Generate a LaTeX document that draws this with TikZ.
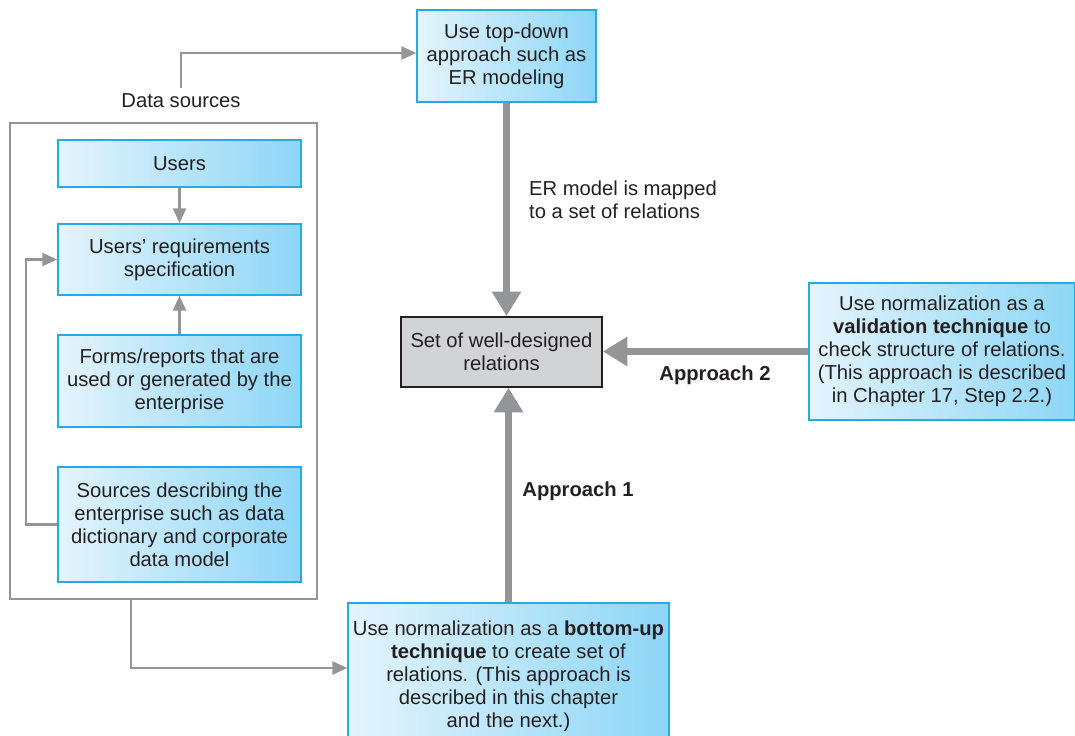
\documentclass[tikz,border=0pt]{standalone}
\usepackage{fontspec}
\setmainfont{Liberation Sans}
\usetikzlibrary{positioning,calc,arrows.meta}
\definecolor{boxcyan}{HTML}{27AAE1}
\definecolor{boxlight}{HTML}{E3F4FC}
\definecolor{boxdeep}{HTML}{8DD6F6}
\definecolor{linegray}{HTML}{939598}
\definecolor{relgray}{HTML}{D1D3D4}
\definecolor{inkgray}{HTML}{231F20}

\begin{document}
\begin{tikzpicture}[
  every node/.append style={font=\fontsize{11.5}{13.1}\selectfont, text=inkgray},
  bluebox/.style={draw=boxcyan, line width=0.9pt, left color=boxlight, right color=boxdeep,
             minimum width=4.86cm, align=center, inner sep=2pt},
  relbox/.style={draw=inkgray, line width=1pt, fill=relgray,
             minimum width=4.02cm, minimum height=1.4cm, align=center},
  frame/.style={draw=linegray, line width=1.2pt, minimum width=6.14cm, minimum height=9.52cm},
  edge/.style={line width=1.2pt, linegray, -{Triangle[length=8.5pt,width=7.5pt]}},
  bigedge/.style={line width=4.5pt, linegray, -{Triangle[length=14pt,width=16pt]}},
]
\useasboundingbox (0,0) rectangle (21.5,-14.72);

\node[bluebox, minimum width=3.58cm, minimum height=1.84cm] (topdown) at (10.13,-1.12)
  {Use top-down\\approach such as\\ER modeling};
\node (datasrc) at (3.62,-2.02) {Data sources};
\node[frame] (srcframe) at (3.27,-7.22) {};

\node[bluebox, minimum height=0.94cm] (users) at (3.59,-3.27) {Users};
\node[bluebox, minimum height=1.42cm] (req)   at (3.59,-5.19) {Users’ requirements\\specification};
\node[bluebox, minimum height=1.84cm] (forms) at (3.59,-7.62)
  {Forms/reports that are\\used or generated by the\\enterprise};
\node[bluebox, minimum height=2.3cm]  (srcs)  at (3.59,-10.49)
  {Sources describing the\\enterprise such as data\\dictionary and corporate\\data model};

\node[relbox] (rels) at (10.03,-7.04) {Set of well-designed\\relations};

\node[bluebox, minimum width=5.32cm, minimum height=2.74cm] (valbox) at (18.84,-7.03)
  {Use normalization as a\\\textbf{validation technique} to\\check structure of relations.\\(This approach is described\\in Chapter 17, Step 2.2.)};
% box runs past the lower page edge
\node[bluebox, minimum width=6.42cm, minimum height=2.92cm] (normbox) at (10.17,-13.52)
  {Use normalization as a \textbf{bottom-up}\\\textbf{technique} to create set of\\relations. (This approach is\\described in this chapter\\and the next.)};

\node[anchor=west, align=left] (maplbl) at (10.46,-4.0) {ER model is mapped\\to a set of relations};
\node[font=\fontsize{11.5}{13.1}\selectfont\bfseries] (appr2) at (14.3,-7.5) {Approach 2};
\node[font=\fontsize{11.5}{13.1}\selectfont\bfseries] (appr1) at (11.56,-9.82) {Approach 1};

% thin connectors
\draw[edge] (datasrc.north) |- ([yshift=0.06cm]topdown.west);
\draw[edge] (users) -- (req);
\draw[edge] (forms) -- (req);
\draw[edge] (srcs.west) -- ++(-0.62,0) |- (req.west);
\draw[edge] ([xshift=-0.65cm]srcframe.south) |- ([yshift=0.03cm]normbox.west |- 0,-13.39);

% thick connectors
\draw[bigedge] (topdown.south) -- (topdown.south |- rels.north);
\draw[bigedge] (valbox.west) -- (rels.east |- valbox.west);
\draw[bigedge] (normbox.north) -- (normbox.north |- rels.south);
\end{tikzpicture}
\end{document}
